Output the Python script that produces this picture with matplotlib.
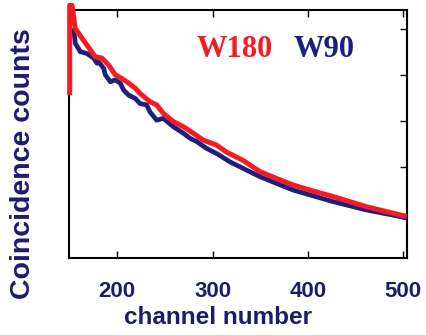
import matplotlib
matplotlib.use("Agg")
import matplotlib.pyplot as plt

# W180 (red) coincidence counts (thousands) vs channel
red_ch = [150.0, 150.0, 152.5, 155.9, 163.0, 171.7, 176.9, 183.9, 191.0, 197.9,
          204.9, 212.0, 218.9, 223.8, 234.3, 241.3, 248.3, 258.8, 269.3, 279.7,
          290.2, 304.3, 314.8, 332.2, 349.7, 367.3, 384.7, 402.2, 426.7, 461.7, 503.7]
red_counts = [3.56, 5.50, 5.50, 5.00, 4.79, 4.54, 4.39, 4.36, 4.21, 4.00,
              3.92, 3.82, 3.71, 3.60, 3.42, 3.35, 3.17, 2.99, 2.88, 2.74,
              2.59, 2.48, 2.33, 2.15, 1.91, 1.76, 1.62, 1.51, 1.37, 1.15, 0.94]

# W90 (blue)
blue_ch = [154.3, 155.9, 161.2, 168.2, 175.2, 178.7, 180.5, 185.7, 187.4, 192.7,
           197.9, 203.1, 206.7, 212.0, 218.9, 223.8, 230.8, 234.3, 241.3, 248.3,
           258.8, 269.3, 276.3, 283.3, 293.8, 304.3, 318.3, 349.7, 384.7, 426.7,
           461.7, 496.6, 501.9]
blue_counts = [4.97, 4.68, 4.50, 4.46, 4.36, 4.25, 4.28, 4.14, 4.00, 3.85,
               3.89, 3.82, 3.67, 3.56, 3.49, 3.38, 3.35, 3.20, 3.02, 3.06,
               2.88, 2.74, 2.63, 2.56, 2.41, 2.30, 2.12, 1.80, 1.51, 1.26,
               1.08, 0.94, 0.91]

x_ticks = [200, 300, 400, 500]
y_ticks = [1, 2, 3, 4, 5]

navy = "#1b1b70"
red = "#f41c22"
blue = "#1a1f80"

fig = plt.figure(figsize=(4.26, 3.35), dpi=100)
ax = fig.add_axes([0.162, 0.2299, 0.793, 0.7401])

ax.plot(blue_ch, blue_counts, color=blue, lw=3.4, solid_joinstyle="round",
        solid_capstyle="round", zorder=3)
ax.plot(red_ch, red_counts, color=red, lw=3.6, solid_joinstyle="round",
        solid_capstyle="butt", zorder=4, clip_on=False)

ax.set_xlim(149.3, 504.0)
ax.set_ylim(0.043, 5.40)

for s in ax.spines.values():
    s.set_linewidth(1.5)
    s.set_color("black")

ax.set_xticks(x_ticks)
ax.set_xticklabels([str(t) for t in x_ticks])
ax.tick_params(axis="x", direction="in", top=True, bottom=True, length=5,
               width=1, pad=16.5, labelsize=16, labelcolor=navy)
for lab in ax.get_xticklabels():
    lab.set_fontfamily("Liberation Sans")
    lab.set_fontweight("bold")

ax.set_yticks(y_ticks)
ax.tick_params(axis="y", direction="in", left=False, right=True, length=5,
               width=1, labelleft=False, labelright=False)

ax.set_xlabel("channel number", fontsize=17.5, fontweight="bold",
              family="Liberation Sans", color=navy, va="center")
ax.xaxis.set_label_coords(0.442, -0.242)
ax.set_ylabel("Coincidence counts", fontsize=20.5, fontweight="bold",
              family="Liberation Sans", color=navy, va="center", ha="center")
ax.yaxis.set_label_coords(-0.136, 0.379)

ax.text(0.491, 0.839, "W180", transform=ax.transAxes, color=red,
        fontsize=22, fontweight="bold", family="Liberation Serif",
        ha="center", va="center")
ax.text(0.754, 0.839, "W90", transform=ax.transAxes, color=blue,
        fontsize=22, fontweight="bold", family="Liberation Serif",
        ha="center", va="center")

fig.savefig("out.png", dpi=100)
